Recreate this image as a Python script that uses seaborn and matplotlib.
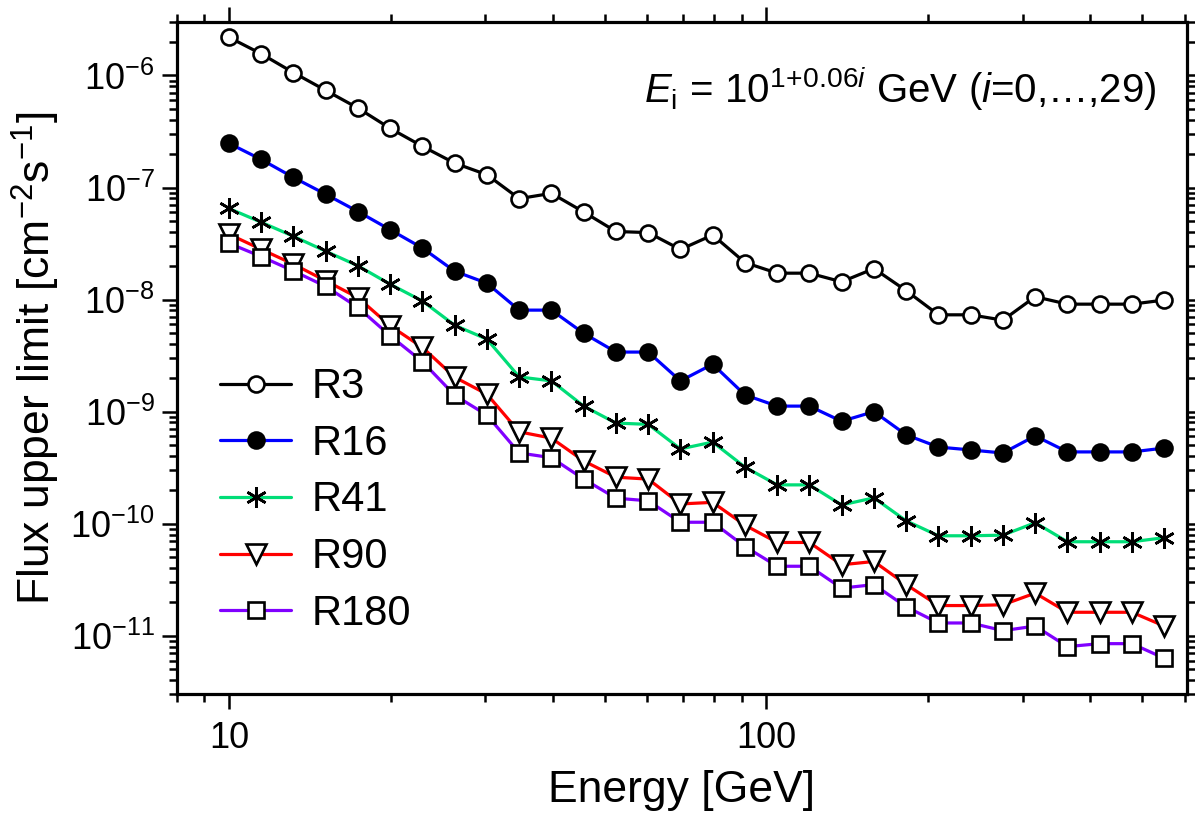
import matplotlib
matplotlib.use('Agg')
import matplotlib.pyplot as plt
import matplotlib.ticker as mticker
import seaborn as sns

# E_i = 10^(1+0.06 i) GeV, i = 0..29
energy = [10.0, 11.48, 13.18, 15.14, 17.38, 19.95, 22.91, 26.30, 30.20, 34.67,
          39.81, 45.71, 52.48, 60.26, 69.18, 79.43, 91.20, 104.7, 120.2, 138.0,
          158.5, 182.0, 208.9, 239.9, 275.4, 316.2, 363.1, 416.9, 478.6, 549.5]

r3 = [2.19e-6, 1.56e-6, 1.06e-6, 7.35e-7, 5.11e-7, 3.37e-7, 2.33e-7, 1.65e-7, 1.30e-7, 7.96e-8,
      8.87e-8, 6.05e-8, 4.05e-8, 3.96e-8, 2.80e-8, 3.77e-8, 2.14e-8, 1.72e-8, 1.72e-8, 1.44e-8,
      1.89e-8, 1.20e-8, 7.31e-9, 7.31e-9, 6.55e-9, 1.06e-8, 9.10e-9, 9.10e-9, 9.10e-9, 9.90e-9]

r16 = [2.48e-7, 1.78e-7, 1.23e-7, 8.70e-8, 6.10e-8, 4.20e-8, 2.88e-8, 1.79e-8, 1.40e-8, 8.05e-9,
       8.05e-9, 5.00e-9, 3.40e-9, 3.40e-9, 1.88e-9, 2.65e-9, 1.41e-9, 1.12e-9, 1.12e-9, 8.20e-10,
       1.00e-9, 6.20e-10, 4.83e-10, 4.55e-10, 4.27e-10, 6.07e-10, 4.37e-10, 4.37e-10, 4.37e-10, 4.73e-10]

r41 = [6.50e-8, 4.90e-8, 3.67e-8, 2.70e-8, 2.00e-8, 1.37e-8, 9.70e-9, 5.90e-9, 4.43e-9, 2.04e-9,
       1.88e-9, 1.12e-9, 7.90e-10, 7.70e-10, 4.65e-10, 5.35e-10, 3.20e-10, 2.22e-10, 2.22e-10, 1.47e-10,
       1.70e-10, 1.06e-10, 7.80e-11, 7.80e-11, 7.90e-11, 1.02e-10, 6.90e-11, 6.90e-11, 6.90e-11, 7.50e-11]

r90 = [3.83e-8, 2.81e-8, 2.07e-8, 1.47e-8, 1.04e-8, 5.83e-9, 3.74e-9, 2.03e-9, 1.43e-9, 6.60e-10,
       5.80e-10, 3.63e-10, 2.60e-10, 2.50e-10, 1.50e-10, 1.55e-10, 9.70e-11, 6.80e-11, 6.80e-11, 4.30e-11,
       4.60e-11, 2.86e-11, 1.86e-11, 1.86e-11, 1.89e-11, 2.40e-11, 1.62e-11, 1.62e-11, 1.62e-11, 1.22e-11]

r180 = [3.18e-8, 2.42e-8, 1.80e-8, 1.31e-8, 8.50e-9, 4.75e-9, 2.79e-9, 1.40e-9, 9.30e-10, 4.28e-10,
        3.88e-10, 2.50e-10, 1.69e-10, 1.60e-10, 1.03e-10, 1.03e-10, 6.25e-11, 4.17e-11, 4.17e-11, 2.66e-11,
        2.86e-11, 1.81e-11, 1.30e-11, 1.30e-11, 1.11e-11, 1.22e-11, 8.00e-12, 8.50e-12, 8.50e-12, 6.30e-12]

x_ticks = [10, 100]
x_ticklabels = ['10', '100']
y_ticks = [1e-11, 1e-10, 1e-9, 1e-8, 1e-7, 1e-6]

# name, values, line colour, marker, face colour, marker size
series = [
    ('R3', r3, 'black', 'o', 'white', 11.5),
    ('R16', r16, '#0000ff', 'o', 'black', 11.5),
    ('R41', r41, '#00dd77', (6, 2, 0), 'black', 15),
    ('R90', r90, '#ff0000', 'v', 'white', 14),
    ('R180', r180, '#8000ff', 's', 'white', 12),
]

sns.set_style('ticks')
plt.rcParams['font.family'] = ['Liberation Sans', 'DejaVu Sans']
plt.rcParams['mathtext.fontset'] = 'custom'
plt.rcParams['mathtext.rm'] = 'Liberation Sans'
plt.rcParams['mathtext.it'] = 'Liberation Sans:italic'
plt.rcParams['mathtext.bf'] = 'Liberation Sans:bold'
for k in ['text.color', 'axes.labelcolor', 'xtick.color', 'ytick.color', 'axes.edgecolor']:
    plt.rcParams[k] = 'black'

fig = plt.figure(figsize=(11.95, 8.14), dpi=100)
ax = fig.add_axes([0.148, 0.147, 0.845, 0.826])

for name, vals, col, mk, face, ms in series:
    sns.lineplot(x=energy, y=vals, ax=ax, color=col, linewidth=2.3,
                 marker=mk, markersize=ms, markerfacecolor=face,
                 markeredgecolor='black', markeredgewidth=1.9, label=name)

ax.set_xscale('log')
ax.set_yscale('log')

ax.set_xticks(x_ticks, x_ticklabels)
ax.xaxis.set_minor_locator(mticker.FixedLocator([8, 9] + [k * 10 for k in range(2, 10)] + [k * 100 for k in range(2, 7)]))
ax.xaxis.set_minor_formatter(mticker.NullFormatter())
ax.yaxis.set_major_locator(mticker.FixedLocator(y_ticks))
ax.yaxis.set_major_formatter(mticker.LogFormatterSciNotation())
ax.yaxis.set_minor_locator(mticker.LogLocator(base=10, subs=range(2, 10), numticks=40))
ax.yaxis.set_minor_formatter(mticker.NullFormatter())
ax.set_xlim(8, 605)
ax.set_ylim(3e-12, 3e-6)

ax.tick_params(which='both', direction='out', top=True, right=True, width=1.8)
ax.tick_params(which='major', length=11, labelsize=26)
ax.tick_params(which='minor', length=6)
ax.tick_params(axis='x', which='major', pad=8)
ax.tick_params(axis='y', which='major', pad=5)
for sp in ax.spines.values():
    sp.set_linewidth(2.3)
    sp.set_color('black')

ax.set_xlabel('Energy [GeV]', fontsize=32, labelpad=10)
ax.set_ylabel('Flux upper limit [cm$^{-2}$s$^{-1}$]', fontsize=32, labelpad=6)

ax.text(0.97, 0.879, r'$E_{\mathrm{i}}$ = 10$^{1\!+\!0.06\mathit{i}}$ GeV ($i$=0,…,29)',
        transform=ax.transAxes, ha='right', va='baseline', fontsize=29)

ax.legend(loc='lower left', bbox_to_anchor=(0.043, 0.09), frameon=False,
          fontsize=30, handlelength=1.7, handletextpad=0.5, labelspacing=0.4,
          borderpad=0, borderaxespad=0, numpoints=1)

fig.savefig('out.png', dpi=100)
